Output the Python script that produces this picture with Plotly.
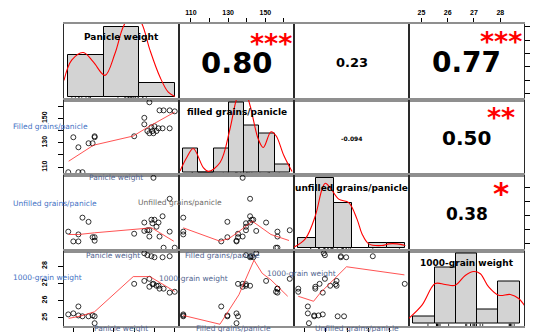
import numpy as np
import plotly.graph_objects as go
from plotly.subplots import make_subplots

# ---------------- data ----------------
variables = ["Panicle weight", "Filled grains/panicle", "Unfilled grains/panicle", "1000-grain weight"]
diag_titles = ["Panicle weight", "filled grains/panicle", "unfilled grains/panicle", "1000-grain weight"]

panicle_weight = [2.55, 2.60, 2.65, 2.65, 2.69, 2.75, 2.79, 2.81, 2.81,
                  3.20, 3.30, 3.30, 3.33, 3.35, 3.35, 3.37, 3.38, 3.39,
                  3.40, 3.42, 3.44, 3.45, 3.48, 3.49, 3.55, 3.55, 3.60]
filled_grains = [105.9, 134.5, 126.3, 105.9, 105.9, 129.6, 129.6, 135.3, 134.5,
                 135.3, 150.4, 145.1, 139.6, 137.8, 163.1, 142.7, 139.6, 137.8,
                 143.5, 139.6, 141.8, 156.5, 141.8, 156.5, 141.8, 156.5, 155.7]
unfilled_grains = [5.7, 4.3, 4.3, 5.3, 7.7, 7.1, 4.9, 4.9, 4.4,
                   5.4, 7.0, 5.8, 5.9, 5.0, 5.9, 7.4, 6.9, 13.4,
                   7.4, 6.4, 7.0, 5.0, 7.9, 3.4, 10.4, 5.7, 3.4]
grain_weight = [25.20, 25.26, 25.66, 25.14, 25.09, 25.09, 25.14, 25.09, 24.69,
                26.97, 27.14, 28.74, 28.63, 26.80, 27.26, 28.57, 26.95, 26.97,
                28.51, 26.86, 26.86, 26.69, 28.51, 26.69, 28.57, 26.46, 26.51]

# histogram breaks
pw_breaks = [2.5, 3.0, 3.5, 4.0]
filled_breaks = [100, 110, 120, 130, 140, 150, 160, 170]
unfilled_breaks = [2, 4, 6, 8, 10, 12, 14]
weight_breaks = [24, 25, 26, 27, 28, 29]

# density curves
pw_dens_x = [2.44, 2.548, 2.712, 2.853, 3.017, 3.158, 3.275, 3.412, 3.534, 3.651, 3.792, 3.909, 4.003]
pw_dens_y = [0.259, 0.58, 0.703, 0.552, 0.339, 0.687, 1.111, 1.348, 1.167, 0.74, 0.312, 0.072, 0.005]
filled_dens_x = [97.9, 102.3, 106.6, 113.2, 116.5, 124.2, 130.7, 135.1, 139.3, 143.9, 149.3, 152.6, 157.7, 161.0, 166.2, 171.5]
filled_dens_y = [0.0006, 0.0070, 0.0113, 0.0022, 0.0004, 0.0046, 0.0206, 0.0350, 0.0413, 0.0318, 0.0158,
                 0.0118, 0.0193, 0.0174, 0.0078, 0.0003]
unfilled_dens_x = [1.49, 2.79, 3.92, 4.68, 5.05, 5.61, 6.56, 7.69, 8.62, 9.19, 9.94, 11.42, 12.20, 13.13, 14.07]
unfilled_dens_y = [0.0018, 0.0326, 0.118, 0.217, 0.239, 0.222, 0.180, 0.167, 0.106, 0.051, 0.0142, 0.008,
                   0.0142, 0.0142, 0.008]
weight_dens_x = [23.79, 24.41, 25.03, 25.50, 25.97, 26.44, 26.84, 27.15, 27.54, 28.01, 28.56, 28.95, 29.26]
weight_dens_y = [0.026, 0.096, 0.210, 0.205, 0.201, 0.253, 0.274, 0.262, 0.192, 0.148, 0.152, 0.131, 0.087]

# smoother lines in the lower panels
smooth_pw_filled = ([2.554, 2.799, 3.191, 3.338, 3.6], [114.9, 128.0, 135.5, 142.9, 155.1])
smooth_pw_unfilled = ([2.554, 2.652, 2.809, 3.191, 3.372, 3.453, 3.59], [5.29, 5.29, 5.53, 6.0, 6.24, 5.53, 4.33])
smooth_pw_weight = ([2.554, 2.669, 2.809, 3.191, 3.355, 3.6], [24.97, 25.1, 25.35, 27.39, 27.39, 26.53])
smooth_filled_unfilled = ([105.9, 125.6, 130.4, 134.9, 143.0, 153.0, 162.7], [6.24, 4.33, 4.71, 5.53, 7.19, 5.29, 4.43])
smooth_filled_weight = ([105.9, 125.6, 135.8, 143.9, 148.3, 153.0, 162.0], [25.14, 24.63, 26.34, 28.34, 27.58, 27.2, 26.25])
smooth_unfilled_weight = ([3.4, 4.84, 5.46, 7.93, 13.37], [26.25, 25.96, 26.44, 27.96, 27.49])

# correlation labels
corr_text = {(0, 1): "0.80", (0, 2): "0.23", (0, 3): "0.77", (1, 2): "-0.094", (1, 3): "0.50", (2, 3): "0.38"}
corr_stars = {(0, 1): "***", (0, 3): "***", (1, 3): "**", (2, 3): "*"}

# axis ticks
tick_vals = [[2.6, 2.8, 3.0, 3.2, 3.4, 3.6], [110, 120, 130, 140, 150, 160], [4, 6, 8, 10, 12], [25, 26, 27, 28]]
tick_text = [["2.6", "", "3.0", "", "3.4", ""], ["110", "", "130", "", "150", ""],
             ["4", "6", "8", "10", "12"], ["25", "26", "27", "28"]]

# ---------------- styles ----------------
W, H = 544, 332
OFF = 8                      # page body margin of the html page
GX0, GX1, GY0, GY1 = 64, 524, 24, 326   # grid edges on the page
ML, MT = GX0 - OFF, GY0 - OFF
MR, MB = W - (GX1 - OFF), H - (GY1 - OFF)
corr_size = {(0, 1): 29, (0, 2): 13, (0, 3): 28, (1, 2): 6, (1, 3): 20, (2, 3): 17}
star_size = {(0, 1): 27, (0, 3): 27, (1, 3): 27, (2, 3): 31}
star_shift = {(0, 1): -4, (0, 3): -2, (1, 3): -3, (2, 3): -3}
HLINE = "#8f8f8f"
VLINE = "#2a2a2a"
TICKFONT = dict(family="Liberation Sans", size=7, color="black", weight="bold")

data = [panicle_weight, filled_grains, unfilled_grains, grain_weight]
breaks = [pw_breaks, filled_breaks, unfilled_breaks, weight_breaks]
dens = [(pw_dens_x, pw_dens_y), (filled_dens_x, filled_dens_y),
        (unfilled_dens_x, unfilled_dens_y), (weight_dens_x, weight_dens_y)]
smooths = {(1, 0): smooth_pw_filled, (2, 0): smooth_pw_unfilled, (3, 0): smooth_pw_weight,
           (2, 1): smooth_filled_unfilled, (3, 1): smooth_filled_weight, (3, 2): smooth_unfilled_weight}


def pad_range(v):
    lo, hi = min(v), max(v)
    d = 0.04 * (hi - lo)
    return [lo - d, hi + d]


def suffix(r, c):
    i = r * 4 + c + 1
    return "" if i == 1 else str(i)


fig = make_subplots(rows=4, cols=4, horizontal_spacing=0, vertical_spacing=0)

for r in range(4):
    for c in range(4):
        xa = dict(showgrid=False, zeroline=False, showline=True, mirror=True,
                  linecolor=HLINE, linewidth=2, ticks="", showticklabels=False)
        ya = dict(showgrid=False, zeroline=False, showline=True, mirror=True,
                  linecolor=VLINE, linewidth=1.2, ticks="", showticklabels=False)
        if r == c:
            b = np.array(breaks[r], dtype=float)
            counts, _ = np.histogram(data[r], bins=b)
            widths = np.diff(b)
            dh = counts / (len(data[r]) * widths)
            M = dh.max()
            span = b[-1] - b[0]
            xa["range"] = [b[0] - 0.04 * span, b[-1] + 0.04 * span]
            ya["range"] = [-0.04 * M, 1.04 * M]
            fig.add_trace(go.Bar(x=(b[:-1] + b[1:]) / 2, y=dh, width=widths,
                                 marker=dict(color="#d3d3d3", line=dict(color="black", width=1))),
                          row=r + 1, col=c + 1)
            fig.add_trace(go.Scatter(x=dens[r][0], y=dens[r][1], mode="lines",
                                     line=dict(color="red", width=1.1, shape="spline")),
                          row=r + 1, col=c + 1)
            y0 = -0.04 * M
            y1 = y0 + 0.03 * 1.08 * M
            rx, ry = [], []
            for v in data[r]:
                rx += [v, v, None]
                ry += [y0, y1, None]
            fig.add_trace(go.Scatter(x=rx, y=ry, mode="lines", line=dict(color="black", width=0.8)),
                          row=r + 1, col=c + 1)
        else:
            xa["range"] = pad_range(data[c])
            ya["range"] = pad_range(data[r])
            if r > c:
                fig.add_trace(go.Scatter(x=data[c], y=data[r], mode="markers", cliponaxis=False,
                                         marker=dict(symbol="circle-open", size=5, color="black",
                                                     line=dict(width=0.8))),
                              row=r + 1, col=c + 1)
                sx, sy = smooths[(r, c)]
                fig.add_trace(go.Scatter(x=sx, y=sy, mode="lines",
                                         line=dict(color="rgba(255,40,40,0.8)", width=1)),
                              row=r + 1, col=c + 1)
            else:
                # text-only panel: an empty trace so the subplot frame is drawn
                fig.add_trace(go.Scatter(x=[], y=[], mode="markers", hoverinfo="skip"),
                              row=r + 1, col=c + 1)
            # axes with ticks (R pairs layout)
            if r == 0 and c % 2 == 1:
                xa.update(side="top", ticks="outside", ticklen=4, tickcolor="black",
                          tickvals=tick_vals[c], ticktext=tick_text[c], showticklabels=True,
                          tickfont=TICKFONT)
            if r == 3 and c % 2 == 0:
                # labels of this axis fall below the visible page; only tick marks show
                xa.update(side="bottom", ticks="outside", ticklen=4, tickcolor="black",
                          tickvals=tick_vals[c], showticklabels=False)
            if c == 0 and r % 2 == 1:
                ya.update(side="left", ticks="outside", ticklen=5, tickcolor="black",
                          tickvals=tick_vals[r], ticktext=tick_text[r], showticklabels=True,
                          tickangle=-90, tickfont=TICKFONT, ticklabelstandoff=8)
            if c == 3 and r % 2 == 0:
                ya.update(side="right", ticks="outside", ticklen=5, tickcolor="black",
                          tickvals=tick_vals[r], ticktext=tick_text[r], showticklabels=True,
                          tickangle=-90, tickfont=TICKFONT, ticklabelstandoff=5)
        fig.update_xaxes(row=r + 1, col=c + 1, **xa)
        fig.update_yaxes(row=r + 1, col=c + 1, **ya)

annotations = []
# diagonal titles
for i in range(4):
    s = suffix(i, i)
    annotations.append(dict(text=diag_titles[i], xref="x" + s + " domain", yref="y" + s + " domain",
                            x=0.5, y=0.83, xanchor="center", yanchor="middle", showarrow=False,
                            font=dict(family="DejaVu Sans", size=9, color="black", weight="bold")))
# correlation numbers and stars
for (r, c), t in corr_text.items():
    s = suffix(r, c)
    annotations.append(dict(text=t, xref="x" + s + " domain", yref="y" + s + " domain",
                            x=0.5, y=0.5, xanchor="center", yanchor="middle", yshift=-1, showarrow=False,
                            font=dict(family="DejaVu Sans", size=corr_size[(r, c)], color="black",
                                      weight="bold")))
for (r, c), t in corr_stars.items():
    s = suffix(r, c)
    annotations.append(dict(text=t, xref="x" + s + " domain", yref="y" + s + " domain",
                            x=0.8, y=0.8, xanchor="center", yanchor="middle", yshift=star_shift[(r, c)],
                            showarrow=False,
                            font=dict(family="DejaVu Sans", size=star_size[(r, c)], color="red",
                                      weight="bold")))

# stray variable labels seen in the picture (page pixel positions converted to paper)
BLUE = "#4472c4"
BLUEGREY = "#52658f"
stray = [("Filled grains/panicle", 50, 127, BLUE), ("Panicle weight", 116, 178, BLUEGREY),
         ("Unfilled grains/panicle", 55, 204, BLUE), ("Unfilled grains/panicle", 180, 202, "#6d6a66"),
         ("Panicle weight", 113, 255, BLUEGREY), ("Filled grains/panicle", 222, 255, BLUEGREY),
         ("1000-grain weight", 47, 277, BLUE), ("1000-grain weight", 193, 278, BLUEGREY),
         ("1000-grain weight", 301, 273, BLUEGREY), ("Panicle weight", 121, 328, BLUEGREY),
         ("Filled grains/panicle", 233, 328, BLUEGREY), ("Unfilled grains/panicle", 357, 328, BLUEGREY)]
pw_w = GX1 - GX0
ph_h = GY1 - GY0
for t, px, py, col in stray:
    annotations.append(dict(text=t, xref="paper", yref="paper",
                            x=(px - GX0) / pw_w, y=(GY1 - py) / ph_h,
                            xanchor="center", yanchor="middle",
                            showarrow=False, font=dict(family="DejaVu Sans", size=7.5, color=col)))

fig.update_layout(width=W, height=H, margin=dict(l=ML, r=MR, t=MT, b=MB),
                  template="none", showlegend=False, plot_bgcolor="white", paper_bgcolor="white",
                  bargap=0, annotations=annotations)

fig.write_html("out.html")
